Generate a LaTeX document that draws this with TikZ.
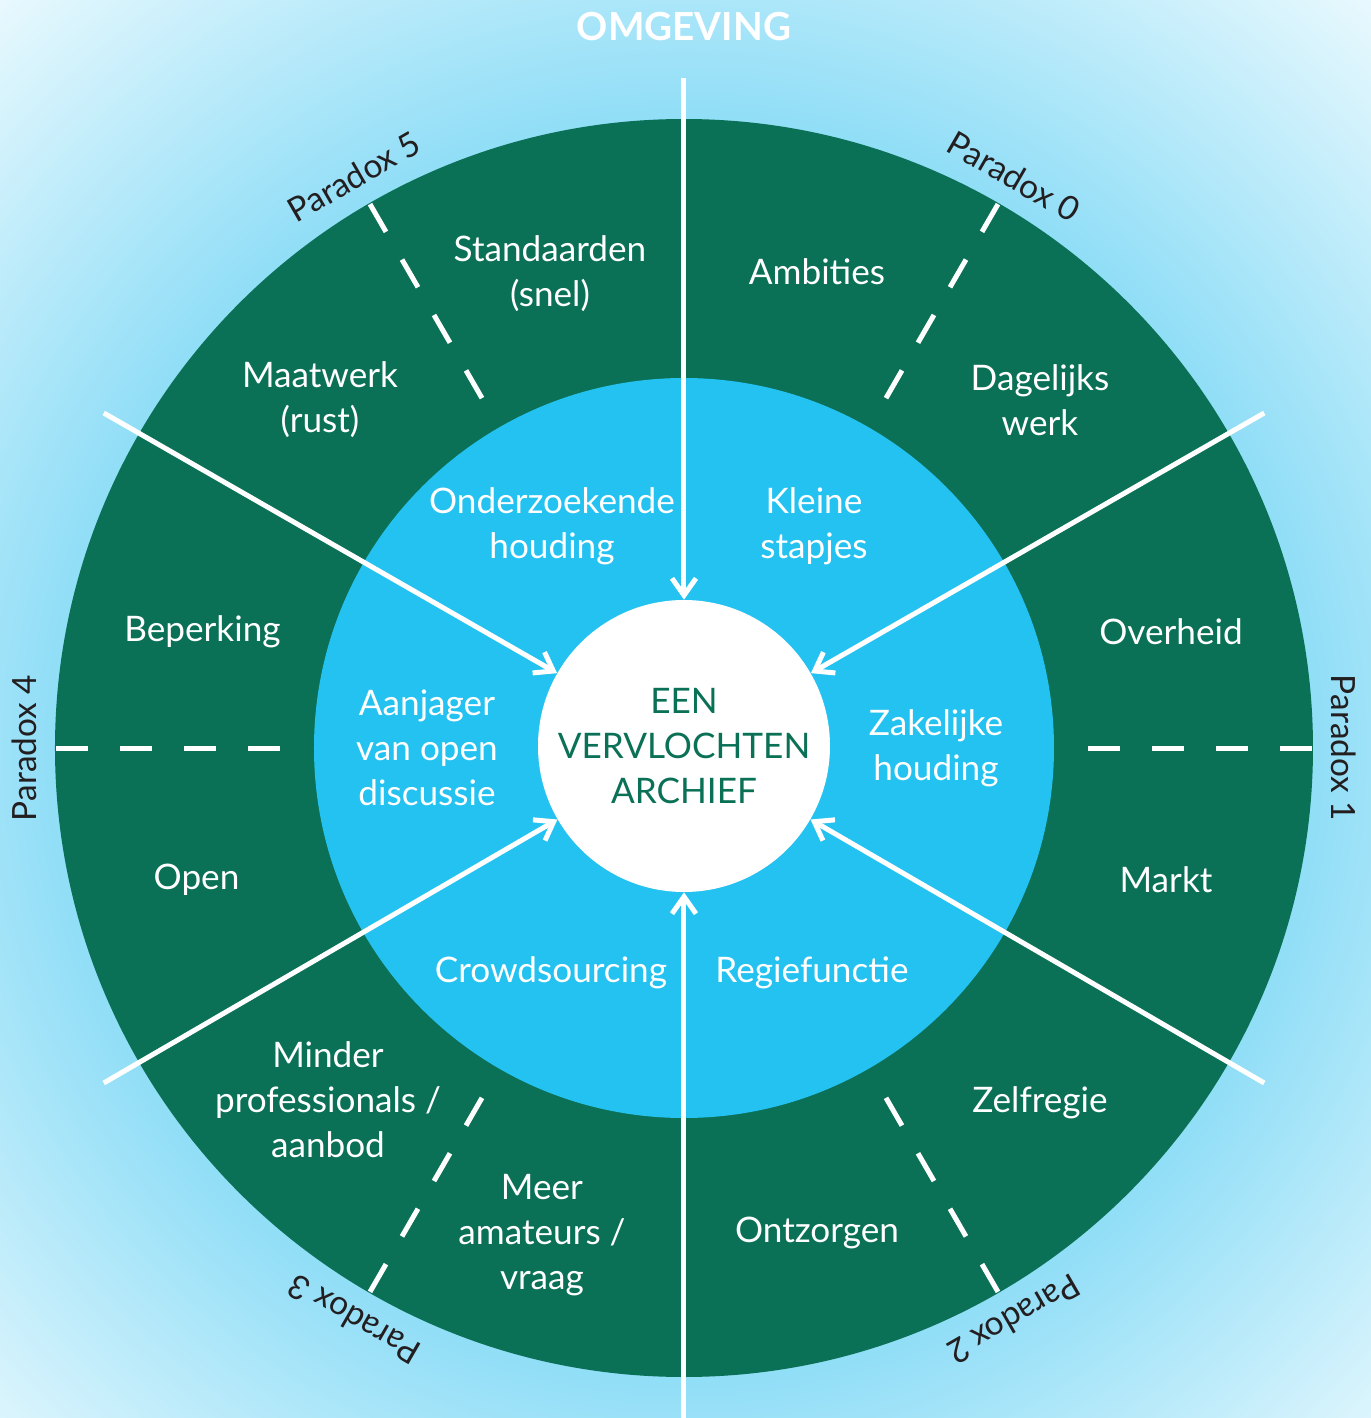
\documentclass[tikz,border=0pt]{standalone}
\usepackage{fontspec}
\setmainfont{Lato}
\usetikzlibrary{arrows.meta}

\definecolor{ringgreen}{RGB}{10,112,86}
\definecolor{discblue}{RGB}{36,194,241}
\definecolor{bgin}{RGB}{145,222,247}
\definecolor{bgout}{RGB}{234,249,254}
\definecolor{paradoxtext}{RGB}{35,31,32}
\pgfdeclareradialshading{omgevingshade}{\pgfpoint{0bp}{0bp}}{color(0bp)=(bgin); color(15.5bp)=(bgin); color(25bp)=(bgout); color(50bp)=(bgout)}

\newcommand{\labelfont}{\fontsize{20}{25.6}\selectfont}

\begin{document}
\begin{tikzpicture}

      \useasboundingbox (-13.68,-13.40) rectangle (13.74,14.96);
      \begin{scope}
        \clip (-13.68,-13.40) rectangle (13.74,14.96);
        \shade[shading=omgevingshade] (0,0) circle (20.4);
      \end{scope}

      \fill[ringgreen] (0,0) circle (12.58);
      \fill[discblue] (0,0) circle (7.4);

      % dashed dividers in the outer ring
      \begin{scope}[white, line width=0.1cm, dash pattern=on 0.64cm off 0.64cm]
        \draw (0:12.56)   -- (0:8.08);
        \draw (60:12.56)  -- (60:8.08);
        \draw (120:12.56) -- (120:8.08);
        \draw (180:12.56) -- (180:8.08);
        \draw (240:12.56) -- (240:8.08);
        \draw (300:12.56) -- (300:8.08);
      \end{scope}

      \node[circle, fill=white, minimum size=5.84cm, inner sep=0pt, align=center,
            text=ringgreen, font=\labelfont] (core) at (0,0.04) {EEN\\VERVLOCHTEN\\ARCHIEF};

      \coordinate (o30)  at (30:13.4);
      \coordinate (o90)  at (90:13.4);
      \coordinate (o150) at (150:13.4);
      \coordinate (o210) at (210:13.4);
      \coordinate (o270) at (270:13.4);
      \coordinate (o330) at (330:13.4);

      \begin{scope}[every edge/.style={draw, white, line width=0.1cm,
                    -{Straight Barb[length=0.34cm,width=0.48cm]}}]
        \path (o90)  edge (core);
        \path (o30)  edge (core);
        \path (o150) edge (core);
        \path (o210) edge (core);
        \path (o270) edge (core);
        \path (o330) edge (core);
      \end{scope}

      \node[text=white, font=\fontsize{22}{26}\bfseries] (omgeving) at (0,14.42) {OMGEVING};

      \begin{scope}[every node/.style={text=white, align=center, font=\labelfont}]
        % outer ring
        \node (ambities)    at (2.66,9.52)   {Ambities};
        \node (dagelijks)   at (7.12,6.96)   {Dagelijks\\werk};
        \node (overheid)    at (9.74,2.32)   {Overheid};
        \node (markt)       at (9.64,-2.64)  {Markt};
        \node (zelfregie)   at (7.12,-7.10)  {Zelfregie};
        \node (ontzorgen)   at (2.66,-9.70)  {Ontzorgen};
        \node (amateurs)    at (-2.84,-9.74) {Meer\\amateurs /\\vraag};
        \node (professionals) at (-7.12,-7.04) {Minder\\professionals /\\aanbod};
        \node (open)        at (-9.75,-2.64) {Open};
        \node (beperking)   at (-9.63,2.32)  {Beperking};
        \node (maatwerk)    at (-7.28,6.96)  {Maatwerk\\(rust)};
        \node (standaarden) at (-2.68,9.48)  {Standaarden\\(snel)};
        % middle ring
        \node (onderzoekend) at (-2.64,4.44) {Onderzoekende\\houding};
        \node (stapjes)      at (2.60,4.44)  {Kleine\\stapjes};
        \node (zakelijk)     at (5.04,0)     {Zakelijke\\houding};
        \node (regie)        at (2.56,-4.50) {Regiefunctie};
        \node (crowd)        at (-2.66,-4.50) {Crowdsourcing};
        \node (aanjager)     at (-5.14,0)    {Aanjager\\van open\\discussie};
      \end{scope}

      \begin{scope}[every node/.style={text=paradoxtext, font=\fontsize{19}{23}\selectfont}]
        \node[rotate=-30]  (paradox0) at (60:13.2)   {Paradox 0};
        \node[rotate=-90]  (paradox1) at (0:13.2)    {Paradox 1};
        \node[rotate=-150] (paradox2) at (-60:13.2)  {Paradox 2};
        \node[rotate=150]  (paradox3) at (-120:13.2) {Paradox 3};
        \node[rotate=90]   (paradox4) at (180:13.2)  {Paradox 4};
        \node[rotate=30]   (paradox5) at (120:13.2)  {Paradox 5};
      \end{scope}

    \end{tikzpicture}
\end{document}
